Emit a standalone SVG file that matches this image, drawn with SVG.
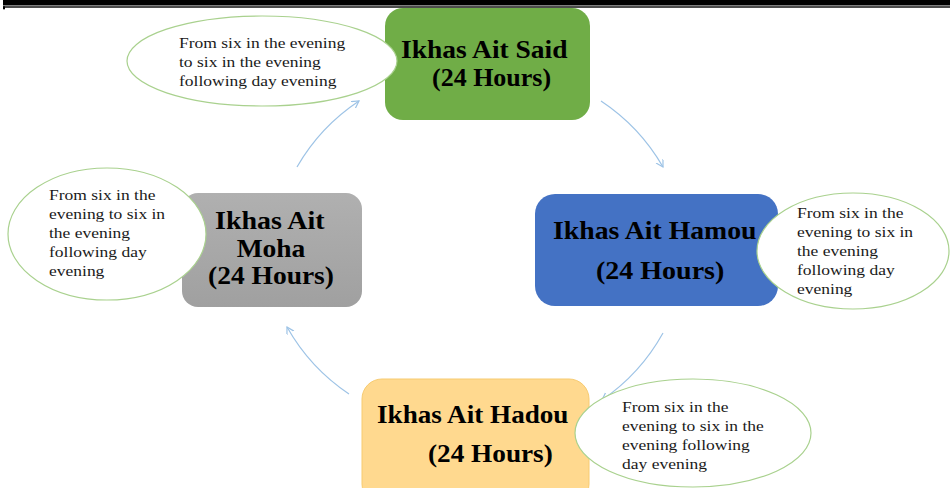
<svg xmlns="http://www.w3.org/2000/svg" width="950" height="488" viewBox="0 0 950 488">
<style>
.t{font-family:"Liberation Serif","Times New Roman",serif;font-weight:bold;font-size:25px;fill:#000}
.e{font-family:"Liberation Serif","Times New Roman",serif;font-size:15.5px;fill:#1a1a1a}
.ell{fill:#fff;stroke:#A9D18E;stroke-width:1.2}
.con{fill:none;stroke:#9DC3E6;stroke-width:1.2;marker-end:url(#ah)}
</style>
<defs>
<marker id="ah" markerWidth="10" markerHeight="10" refX="7" refY="4" orient="auto" markerUnits="userSpaceOnUse">
<path d="M0,0 L7,4 L0,8" fill="none" stroke="#9DC3E6" stroke-width="1.2"/>
</marker>
<linearGradient id="gray" x1="0" y1="0" x2="0" y2="1">
<stop offset="0" stop-color="#B0B0B0"/>
<stop offset="1" stop-color="#A0A0A0"/>
</linearGradient>
</defs>
<rect x="0" y="0" width="950" height="488" fill="#fff"/>
<g id="header">
<rect x="3" y="0" width="947" height="5.5" fill="#000"/>
<rect x="3" y="6.3" width="947" height="1.4" fill="#000"/>
<rect x="3" y="6.3" width="2" height="3" fill="#000"/>
</g>
<g id="connectors">
<path class="con" d="M297,167 A197,197 0 0 1 359,101"/>
<path class="con" d="M601,101 A197,197 0 0 1 663,167"/>
<path class="con" d="M663,333 A197,197 0 0 1 602,400"/>
<path class="con" d="M349,394 A197,197 0 0 1 287,327"/>
</g>
<g id="node-said">
<rect x="385" y="8" width="205" height="112" rx="18" fill="#70AD47"/>
<text class="t" transform="translate(401,58) scale(1.1,1)">Ikhas Ait Said</text>
<text class="t" transform="translate(432,86) scale(1.04,1)">(24 Hours)</text>
</g>
<g id="node-hamou">
<rect x="535" y="194" width="243" height="112" rx="20" fill="#4472C4"/>
<text class="t" transform="translate(553,239) scale(1.11,1)">Ikhas Ait Hamou</text>
<text class="t" transform="translate(596,279) scale(1.12,1)">(24 Hours)</text>
</g>
<g id="node-hadou">
<rect x="362" y="379" width="227" height="125" rx="20" fill="#FFD98F" stroke="#F7CB70" stroke-width="1"/>
<text class="t" transform="translate(377,423) scale(1.085,1)">Ikhas Ait Hadou</text>
<text class="t" transform="translate(428,462) scale(1.09,1)">(24 Hours)</text>
</g>
<g id="node-moha">
<rect x="182" y="193" width="180" height="114" rx="16" fill="url(#gray)"/>
<text class="t" transform="translate(215,229) scale(1.12,1)">Ikhas Ait</text>
<text class="t" transform="translate(271,257) scale(1.1,1)" text-anchor="middle">Moha</text>
<text class="t" transform="translate(208,284) scale(1.1,1)">(24 Hours)</text>
</g>
<g id="note-said">
<ellipse class="ell" cx="262" cy="61" rx="135" ry="45"/>
<text class="e" transform="translate(179,48) scale(1.13,1)">From six in the evening</text>
<text class="e" transform="translate(179,67) scale(1.13,1)">to six in the evening</text>
<text class="e" transform="translate(179,86) scale(1.13,1)">following day evening</text>
</g>
<g id="note-moha">
<ellipse class="ell" cx="107" cy="234" rx="99" ry="66"/>
<text class="e" transform="translate(49,200) scale(1.13,1)">From six in the</text>
<text class="e" transform="translate(49,219) scale(1.13,1)">evening to six in</text>
<text class="e" transform="translate(49,238) scale(1.13,1)">the evening</text>
<text class="e" transform="translate(49,257) scale(1.13,1)">following day</text>
<text class="e" transform="translate(49,276) scale(1.13,1)">evening</text>
</g>
<g id="note-hamou">
<ellipse class="ell" cx="853" cy="251" rx="96" ry="58"/>
<text class="e" transform="translate(797,218) scale(1.13,1)">From six in the</text>
<text class="e" transform="translate(797,237) scale(1.13,1)">evening to six in</text>
<text class="e" transform="translate(797,256) scale(1.13,1)">the evening</text>
<text class="e" transform="translate(797,275) scale(1.13,1)">following day</text>
<text class="e" transform="translate(797,294) scale(1.13,1)">evening</text>
</g>
<g id="note-hadou">
<ellipse class="ell" cx="693" cy="433" rx="118" ry="54"/>
<text class="e" transform="translate(622,412) scale(1.13,1)">From six in the</text>
<text class="e" transform="translate(622,431) scale(1.13,1)">evening to six in the</text>
<text class="e" transform="translate(622,450) scale(1.13,1)">evening following</text>
<text class="e" transform="translate(622,469) scale(1.13,1)">day evening</text>
</g>
</svg>
